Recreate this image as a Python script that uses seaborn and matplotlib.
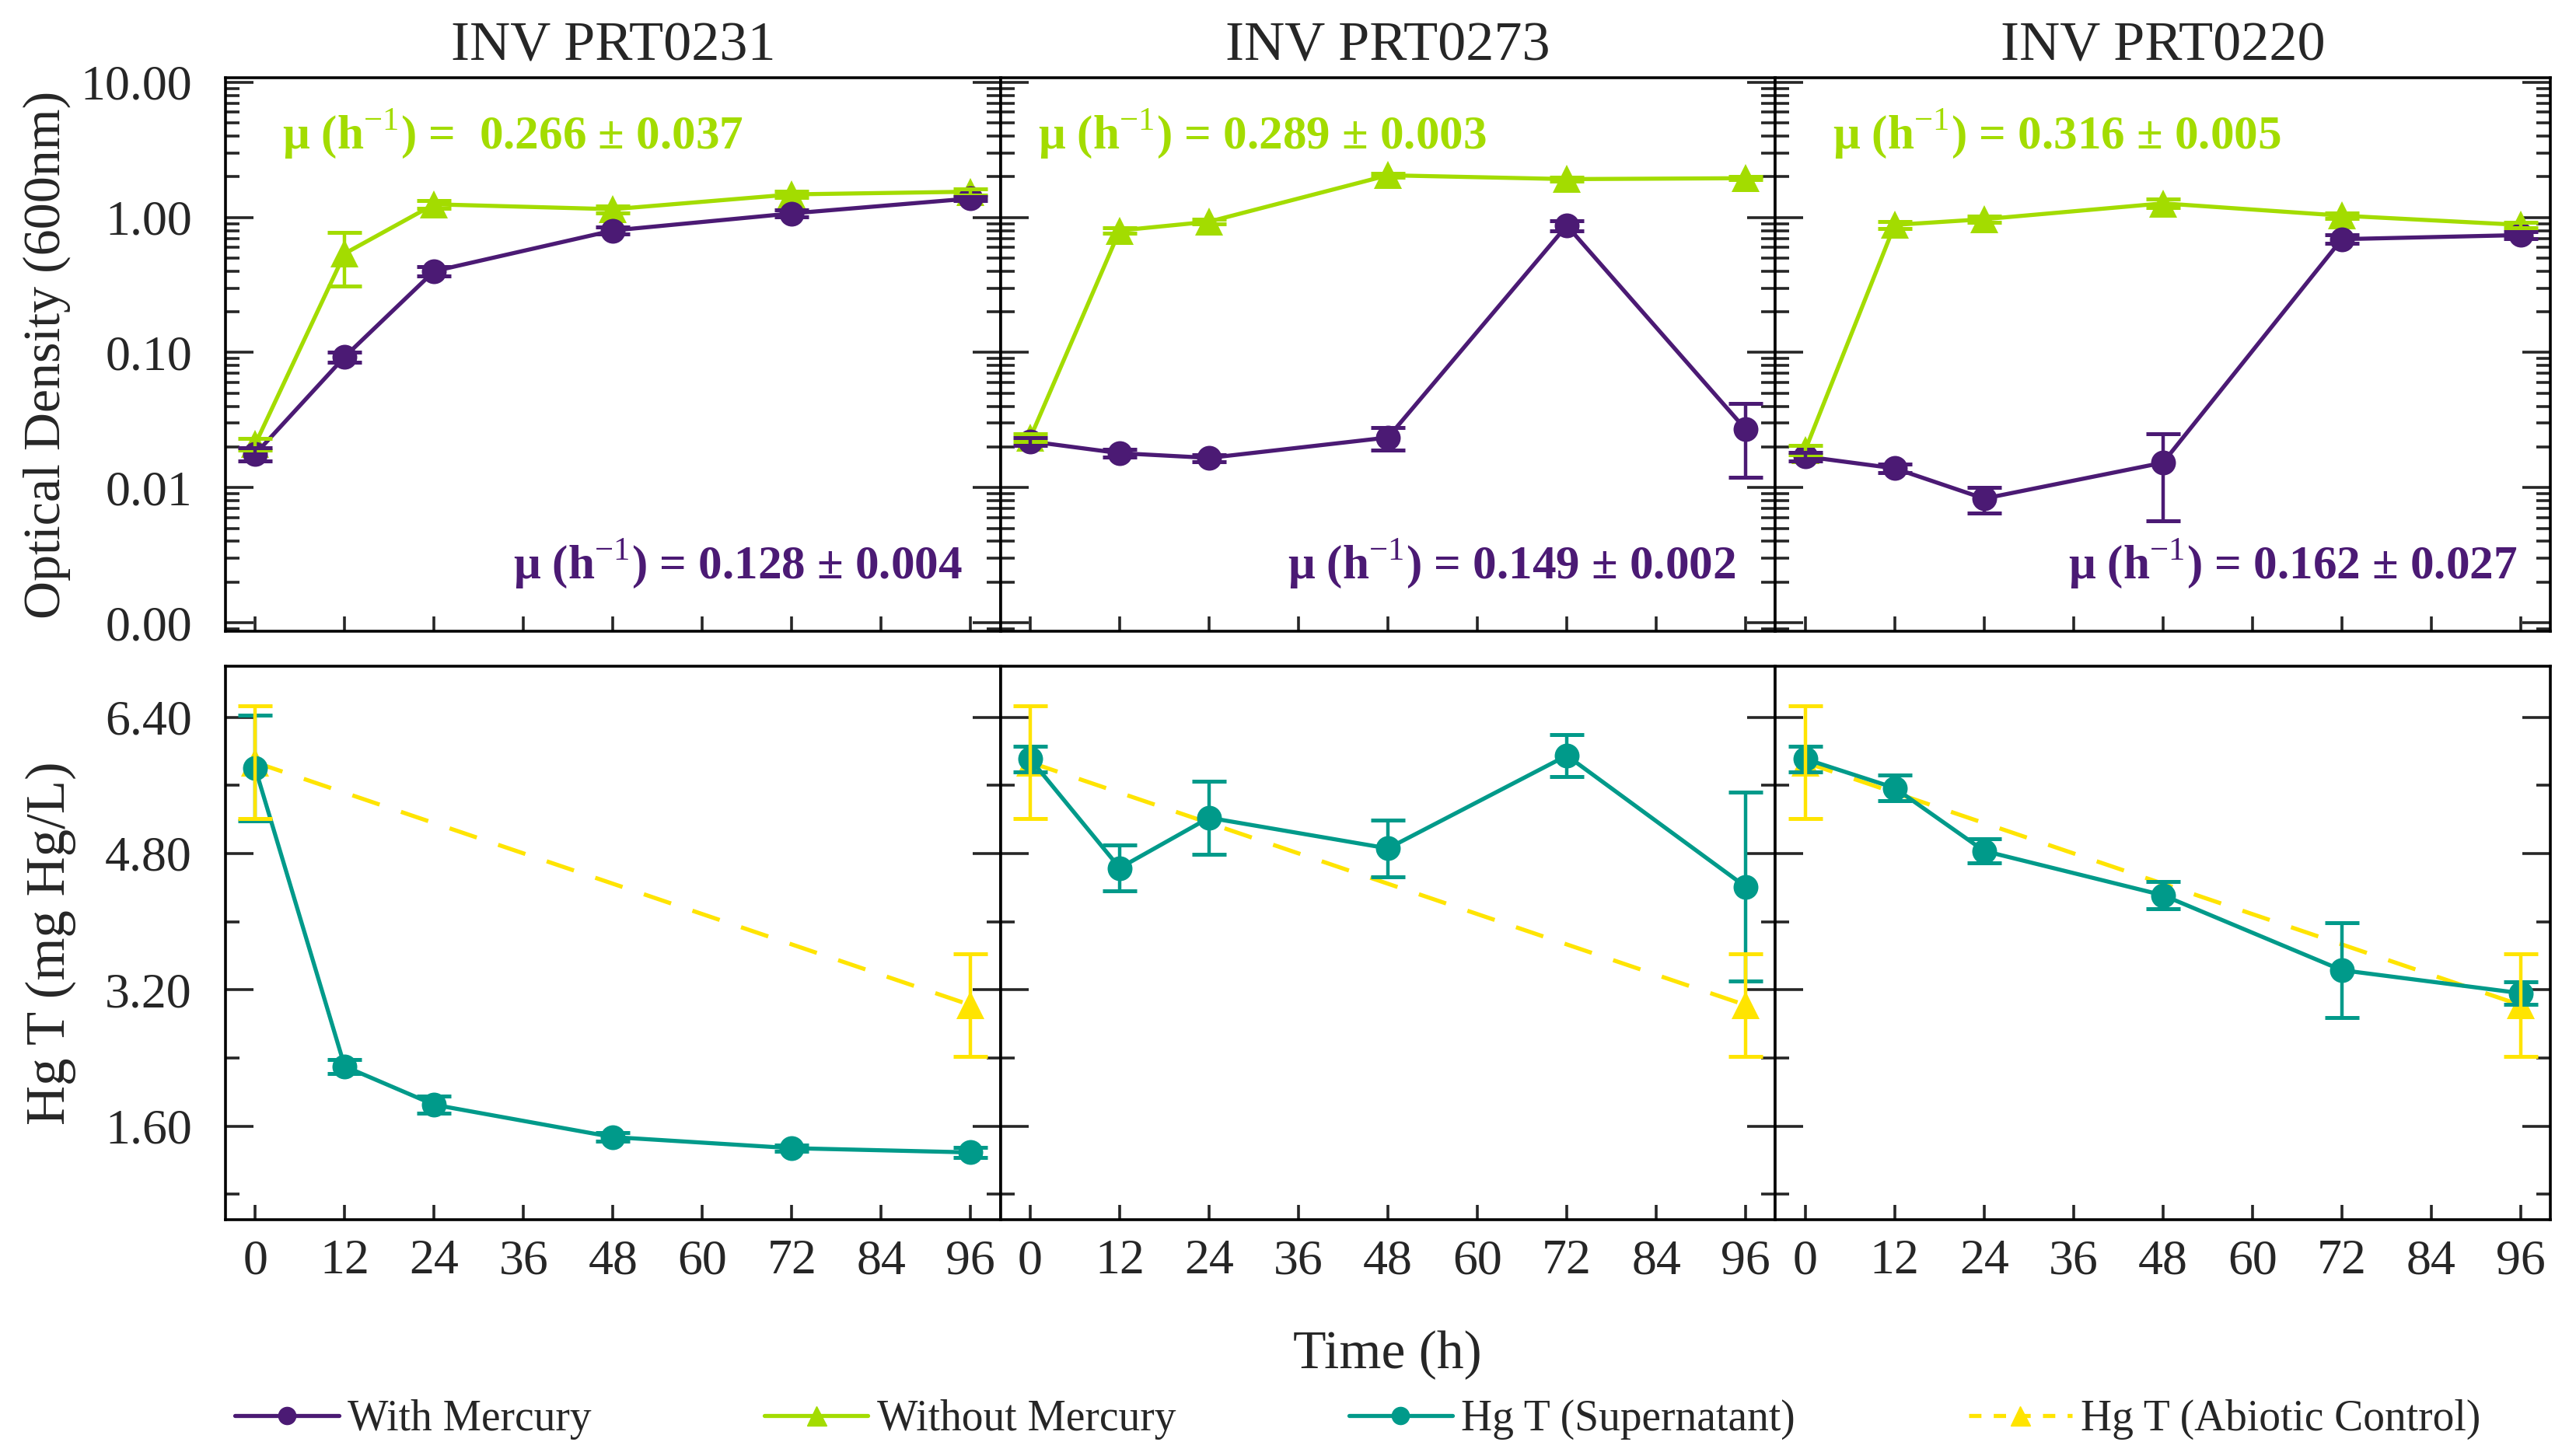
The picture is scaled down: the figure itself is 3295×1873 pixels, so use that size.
import numpy as np
import pandas as pd
import matplotlib
matplotlib.use("Agg")
import matplotlib.pyplot as plt
from matplotlib.lines import Line2D
import seaborn as sns

# data
time = [0, 12, 24, 48, 72, 96]
strains = ["INV PRT0231", "INV PRT0273", "INV PRT0220"]

od_hg = [
    [0.0177, 0.093, 0.40, 0.80, 1.07, 1.38],
    [0.022, 0.018, 0.0166, 0.0235, 0.87, 0.027],
    [0.017, 0.0139, 0.0083, 0.0153, 0.69, 0.74],
]
od_hg_err = [
    [0.002, 0.008, 0.03, 0.05, 0.06, 0.05],
    [0.0015, 0.0012, 0.001, 0.0045, 0.07, 0.015],
    [0.0012, 0.001, 0.0018, 0.0096, 0.05, 0.04],
]
od_ctrl = [
    [0.021, 0.54, 1.25, 1.15, 1.48, 1.55],
    [0.0234, 0.80, 0.93, 2.05, 1.92, 1.95],
    [0.019, 0.88, 0.97, 1.27, 1.03, 0.88],
]
od_ctrl_err = [
    [0.002, 0.23, 0.08, 0.07, 0.08, 0.08],
    [0.0015, 0.04, 0.04, 0.08, 0.06, 0.05],
    [0.0015, 0.05, 0.05, 0.09, 0.05, 0.04],
]
hg_sup = [
    [5.80, 2.30, 1.85, 1.47, 1.34, 1.29],
    [5.91, 4.63, 5.22, 4.86, 5.95, 4.41],
    [5.91, 5.57, 4.83, 4.31, 3.43, 3.16],
]
hg_sup_err = [
    [0.62, 0.08, 0.10, 0.05, 0.04, 0.06],
    [0.15, 0.27, 0.43, 0.33, 0.25, 1.11],
    [0.15, 0.15, 0.14, 0.16, 0.56, 0.13],
]
abiotic_t = [0, 96]
abiotic = [5.87, 3.02]
abiotic_err = [0.66, 0.60]

mu_ctrl = ["=  0.266 ± 0.037", "= 0.289 ± 0.003", "= 0.316 ± 0.005"]
mu_hg = ["= 0.128 ± 0.004", "= 0.149 ± 0.002", "= 0.162 ± 0.027"]

od_ticks = [0.001, 0.01, 0.1, 1, 10]
od_labels = ["0.00", "0.01", "0.10", "1.00", "10.00"]
hg_ticks = [1.6, 3.2, 4.8, 6.4]
hg_labels = ["1.60", "3.20", "4.80", "6.40"]

c_hg = "#4b1a74"
c_ctrl = "#a3dc00"
c_sup = "#009a8a"
c_abio = "#ffe400"

sns.set_style("ticks")
plt.rcParams["font.family"] = ["Liberation Serif", "DejaVu Serif"]
plt.rcParams["mathtext.fontset"] = "custom"
plt.rcParams["mathtext.rm"] = "Liberation Serif"
plt.rcParams["mathtext.bf"] = "Liberation Serif:bold"

fig, axes = plt.subplots(2, 3, figsize=(32.95, 18.73), dpi=100)
fig.subplots_adjust(left=0.088, right=0.9955, top=0.9466, bottom=0.1623,
                    wspace=0, hspace=0.063)

lw = 3.8
ms = 23
cap = dict(elinewidth=3.2, capsize=16, capthick=3.6, fmt="none")
mu_left = [0.073, 0.048, 0.074]
mu_right = [0.951, 0.949, 0.957]

for i in range(3):
    ax = axes[0, i]
    df = pd.DataFrame({"t": time, "hg": od_hg[i], "ctrl": od_ctrl[i]})
    sns.lineplot(data=df, x="t", y="ctrl", ax=ax, color=c_ctrl, marker="^",
                 markersize=ms + 3, markeredgewidth=0, linewidth=lw)
    sns.lineplot(data=df, x="t", y="hg", ax=ax, color=c_hg, marker="o",
                 markersize=ms, markeredgewidth=0, linewidth=lw)
    ax.errorbar(time, od_ctrl[i], yerr=od_ctrl_err[i], ecolor=c_ctrl, **cap)
    ax.errorbar(time, od_hg[i], yerr=od_hg_err[i], ecolor=c_hg, **cap)
    ax.set_yscale("log")
    ax.set_ylim(0.000865, 10.8)
    ax.set_yticks(od_ticks)
    ax.set_yticklabels(od_labels)
    ax.set_title(strains[i], fontsize=52, pad=16)
    ax.text(mu_left[i], 0.898, r"μ (h$^{-1}$) " + mu_ctrl[i],
            transform=ax.transAxes, color=c_ctrl, fontsize=44,
            fontweight="bold", ha="left", va="center")
    ax.text(mu_right[i], 0.122, r"μ (h$^{-1}$) " + mu_hg[i],
            transform=ax.transAxes, color=c_hg, fontsize=44,
            fontweight="bold", ha="right", va="center")

    ax = axes[1, i]
    df2 = pd.DataFrame({"t": time, "sup": hg_sup[i]})
    df3 = pd.DataFrame({"t": abiotic_t, "abio": abiotic})
    sns.lineplot(data=df3, x="t", y="abio", ax=ax, color=c_abio, marker="^",
                 markersize=ms + 3, markeredgewidth=0, linewidth=lw)
    ax.lines[-1].set_dashes((7, 5.5))
    sns.lineplot(data=df2, x="t", y="sup", ax=ax, color=c_sup, marker="o",
                 markersize=ms, markeredgewidth=0, linewidth=lw)
    ax.errorbar(time, hg_sup[i], yerr=hg_sup_err[i], ecolor=c_sup, **cap)
    ax.errorbar(abiotic_t, abiotic, yerr=abiotic_err, ecolor=c_abio, **cap)
    ax.set_ylim(0.5, 7.0)
    ax.set_yticks(hg_ticks)
    ax.set_yticklabels(hg_labels)
    ax.set_yticks([0.8, 2.4, 4.0, 5.6], minor=True)

for ax in axes.flat:
    ax.set_xlim(-4, 100)
    ax.set_xticks([0, 12, 24, 36, 48, 60, 72, 84, 96])
    ax.set_xlabel("")
    ax.set_ylabel("")
    for s in ax.spines.values():
        s.set_linewidth(2.6)
        s.set_color("black")
        s.set_visible(True)
    ax.tick_params(axis="y", which="major", direction="in", left=True,
                   right=True, length=26, width=2.6, labelsize=46, pad=31)
    ax.tick_params(axis="y", which="minor", direction="in", left=True,
                   right=True, length=13, width=2.6)
    ax.tick_params(axis="x", which="major", direction="in", bottom=True,
                   top=False, length=14, width=2.6, labelsize=46, pad=18)
    ax.tick_params(axis="x", which="minor", bottom=False, top=False)
    leg = ax.get_legend()
    if leg is not None:
        leg.remove()

for ax in axes[0]:
    ax.tick_params(axis="x", labelbottom=False)
for ax in axes[:, 1:].flat:
    ax.tick_params(axis="y", labelleft=False)

axes[0, 0].set_ylabel("Optical Density (600nm)", fontsize=49)
axes[1, 0].set_ylabel("Hg T (mg Hg/L)", fontsize=51)
axes[0, 0].yaxis.set_label_coords(-0.2, 0.5)
axes[1, 0].yaxis.set_label_coords(-0.193, 0.5)

fig.text(0.5415, 0.069, "Time (h)", fontsize=50, ha="center", va="center")

handles = [
    Line2D([], [], color=c_hg, marker="o", markersize=16, linewidth=lw),
    Line2D([], [], color=c_ctrl, marker="^", markersize=18, linewidth=lw),
    Line2D([], [], color=c_sup, marker="o", markersize=16, linewidth=lw),
    Line2D([], [], color=c_abio, marker="^", markersize=18, linewidth=lw,
           dashes=(3, 3)),
]
labels = ["With Mercury", "Without Mercury", "Hg T (Supernatant)",
          "Hg T (Abiotic Control)"]
fig.legend(handles, labels, loc="center", ncol=4, frameon=False,
           fontsize=40, bbox_to_anchor=(0.085, 0.005, 0.89, 0.04),
           mode="expand", handlelength=2.4, handletextpad=0.2,
           borderaxespad=0)

fig.savefig("out.png", dpi=100)
